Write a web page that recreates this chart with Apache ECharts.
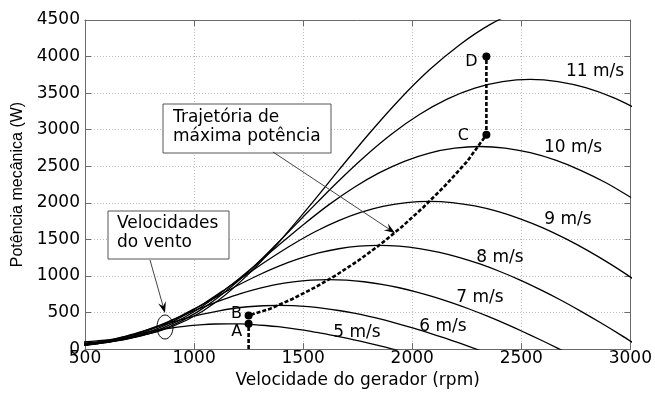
<!DOCTYPE html>
<html><head><meta charset="utf-8">
<script src="https://cdn.jsdelivr.net/npm/echarts@6/dist/echarts.min.js"></script>
<style>html,body{margin:0;padding:0;background:#fff}#c{width:655px;height:394px}</style>
</head><body><div id="c"></div>
<script>
// ---- data (rpm, W) ----
const rpm5 = [462,520,578,635,693,751,809,866,924,982,1040,1097,1155,1213,1271,1328,1386,1444,1502,1559,1617,1675,1733,1790,1848,1906,1964];
const pw5  = [48,74,105,140,177,213,246,276,301,321,335,343,346,344,336,323,306,284,259,230,199,164,127,88,47,4,-40];
const rpm6 = [485,554,624,693,762,832,901,970,1040,1109,1178,1247,1317,1386,1455,1525,1594,1663,1733,1802,1871,1940,2010,2079,2148,2218,2287,2356];
const pw6  = [50,83,127,182,243,306,368,426,477,520,555,579,593,598,594,580,558,528,491,448,398,343,283,219,152,81,7,-69];
const rpm7 = [485,566,647,728,809,889,970,1051,1132,1213,1294,1374,1455,1536,1617,1698,1779,1860,1940,2021,2102,2183,2264,2345,2426,2506,2587,2668,2749];
const pw7  = [47,80,131,202,289,385,486,585,676,758,826,881,919,942,950,943,921,886,839,780,711,632,545,450,348,241,128,11,-110];
const rpm8 = [462,554,647,739,832,924,1016,1109,1201,1294,1386,1478,1571,1663,1756,1848,1940,2033,2125,2218,2310,2402,2495,2587,2680,2772,2864,2957,3049];
const pw8  = [46,71,119,196,302,431,575,725,873,1010,1131,1233,1315,1372,1407,1418,1407,1375,1323,1252,1164,1061,943,813,672,520,360,191,16];
const rpm9 = [416,520,624,728,832,936,1040,1143,1247,1351,1455,1559,1663,1767,1871,1975,2079,2183,2287,2391,2495,2599,2703,2807,2911,3015];
const pw9  = [47,65,101,169,279,430,614,819,1033,1242,1437,1611,1756,1872,1954,2003,2019,2004,1958,1883,1782,1658,1510,1343,1158,956];
const rpm10 = [462,578,693,809,924,1040,1155,1271,1386,1502,1617,1733,1848,1964,2079,2195,2310,2426,2541,2657,2772,2888,3003];
const pw10  = [65,89,138,232,382,589,842,1124,1416,1704,1972,2210,2409,2568,2681,2747,2770,2748,2685,2583,2445,2274,2072];
const rpm11 = [381,508,635,762,889,1016,1143,1271,1398,1525,1652,1779,1906,2033,2160,2287,2414,2541,2668,2795,2922,3049];
const pw11  = [63,86,118,184,309,509,784,1120,1495,1885,2268,2624,2941,3207,3418,3568,3657,3687,3658,3574,3438,3255];
const rpm12 = [416,554,693,832,970,1109,1247,1386,1525,1663,1802,1940,2079,2218,2356,2495,2633];
const pw12  = [82,112,154,238,401,661,1018,1455,1942,2447,2945,3407,3819,4163,4437,4632,4747];

const trajRpm = [1250,1250,1250,1350,1450,1550,1650,1750,1850,1950,2050,2150,2250,2340,2340];
const trajPw  = [0,345,460,553,685,837,1009,1204,1423,1666,1936,2233,2560,2930,4000];

const ptNames = ['A','B','C','D'];
const ptRpm = [1250,1250,2340,2340];
const ptPw  = [345,460,2930,4000];

const windLabels = ['5 m/s','6 m/s','7 m/s','8 m/s','9 m/s','10 m/s','11 m/s'];
const xTicks = [500,1000,1500,2000,2500,3000];
const yTicks = [0,500,1000,1500,2000,2500,3000,3500,4000,4500];

// ---- chart ----
const chart = echarts.init(document.getElementById('c'), null, {renderer:'canvas'});
const FONT = 'DejaVu Sans';
const AX = '#6a6a6a';
const zip = (a,b) => a.map((v,i)=>[v,b[i]]);
const curveSets = [[rpm5,pw5],[rpm6,pw6],[rpm7,pw7],[rpm8,pw8],[rpm9,pw9],[rpm10,pw10],[rpm11,pw11],[rpm12,pw12]];

const curveSeries = curveSets.map((c,i)=>({
  type:'line', data: zip(c[0],c[1]), smooth:0.3, symbol:'none', clip:true,
  lineStyle:{color:'#000', width:1.3}, z:3, silent:true
}));

// label placement (pixels) for the wind-speed names
const labelPos = [[357,333],[443,327],[480,298],[500,258],[568,220],[573,148],[595,72]];
// label offsets for A-D points
const ptOffsets = [[-12,8],[-12,-2],[-23,1],[-15,5]];

function arrow(x1,y1,x2,y2){
  const dx=x2-x1, dy=y2-y1, L=Math.hypot(dx,dy), ux=dx/L, uy=dy/L, px=-uy, py=ux;
  const len=11, w=4, notch=7;
  return [
    {type:'line', z:100, silent:true, shape:{x1:x1,y1:y1,x2:x2-ux*notch,y2:y2-uy*notch}, style:{stroke:'#444', lineWidth:1}},
    {type:'polygon', z:100, silent:true, shape:{points:[[x2,y2],[x2-ux*len+px*w,y2-uy*len+py*w],[x2-ux*notch,y2-uy*notch],[x2-ux*len-px*w,y2-uy*len-py*w]]}, style:{fill:'#000'}}
  ];
}
function txt(t,x,y,size){
  return {type:'text', z:101, silent:true, x:x, y:y,
    style:{text:t, fill:'#000', font: size+'px "'+FONT+'"', align:'center', verticalAlign:'middle', textAlign:'center', textVerticalAlign:'middle'}};
}
function ltxt(t,x,y){
  return {type:'text', z:101, silent:true, x:x, y:y,
    style:{text:t, fill:'#000', font:'17px "'+FONT+'"', align:'left', verticalAlign:'middle', textAlign:'left', textVerticalAlign:'middle'}};
}

const graphics = [];
windLabels.forEach((t,i)=>graphics.push(txt(t,labelPos[i][0],labelPos[i][1],17)));
graphics.push({type:'rect', z:99, silent:true, shape:{x:163,y:104,width:168,height:49}, style:{fill:'#fff', stroke:'#555', lineWidth:1}});
graphics.push(ltxt('Trajetória de',173,118));
graphics.push(ltxt('máxima potência',173,137));
graphics.push({type:'rect', z:99, silent:true, shape:{x:108,y:211,width:121,height:48}, style:{fill:'#fff', stroke:'#555', lineWidth:1}});
graphics.push(ltxt('Velocidades',117,224));
graphics.push(ltxt('do vento',117,243));
arrow(273,152,395,233).forEach(g=>graphics.push(g));
arrow(150,260,165,313).forEach(g=>graphics.push(g));
graphics.push({type:'ellipse', z:100, silent:true, shape:{cx:165,cy:327,rx:8,ry:12}, style:{fill:'transparent', stroke:'#000', lineWidth:1}});

const axisCommon = {
  axisLine:{show:true, onZero:false, lineStyle:{color:AX, width:1}},
  axisTick:{show:true, inside:true, length:6, lineStyle:{color:AX}},
};
const plain = v => String(v);

const option = {
  animation:false,
  backgroundColor:'#fff',
  grid:{left:85, right:23, top:20, bottom:40, containLabel:false},
  xAxis:[
    Object.assign({type:'value', min:xTicks[0], max:xTicks[xTicks.length-1], interval:500, position:'bottom',
      axisLabel:{color:'#000', fontFamily:FONT, fontSize:17, margin:1, formatter:plain},
      splitLine:{show:true, lineStyle:{type:[1,2], color:'#bdbdbd'}},
      name:'Velocidade do gerador (rpm)', nameLocation:'middle', nameGap:20,
      nameTextStyle:{color:'#000', fontFamily:FONT, fontSize:17}}, axisCommon),
    Object.assign({type:'value', min:xTicks[0], max:xTicks[xTicks.length-1], interval:500, position:'top',
      axisLabel:{show:false}, splitLine:{show:false}}, axisCommon)
  ],
  yAxis:[
    Object.assign({type:'value', min:yTicks[0], max:yTicks[yTicks.length-1], interval:500, position:'left',
      axisLabel:{color:'#000', fontFamily:FONT, fontSize:17, margin:5, formatter:plain},
      splitLine:{show:true, lineStyle:{type:[1,2], color:'#bdbdbd'}},
      name:'Potência mecânica (W)', nameLocation:'middle', nameGap:56, nameRotate:90,
      nameTextStyle:{color:'#000', fontFamily:'Liberation Sans', fontSize:16}}, axisCommon),
    Object.assign({type:'value', min:yTicks[0], max:yTicks[yTicks.length-1], interval:500, position:'right',
      axisLabel:{show:false}, splitLine:{show:false}}, axisCommon)
  ],
  series: curveSeries.concat([
    {type:'line', data: zip(trajRpm,trajPw), smooth:false, symbol:'none', clip:true, silent:true,
     lineStyle:{color:'#000', width:2.6, type:[4,2]}, z:4},
    {type:'scatter', silent:true, z:5, symbolSize:8, itemStyle:{color:'#000', opacity:1},
     data: ptNames.map((n,i)=>({name:n, value:[ptRpm[i],ptPw[i]],
       label:{show:true, formatter:n, position:'inside', offset:ptOffsets[i], color:'#000', opacity:1, textBorderWidth:0, fontFamily:FONT, fontSize:16}}))}
  ]),
  graphic: graphics
};
chart.setOption(option);
</script>
</body></html>
